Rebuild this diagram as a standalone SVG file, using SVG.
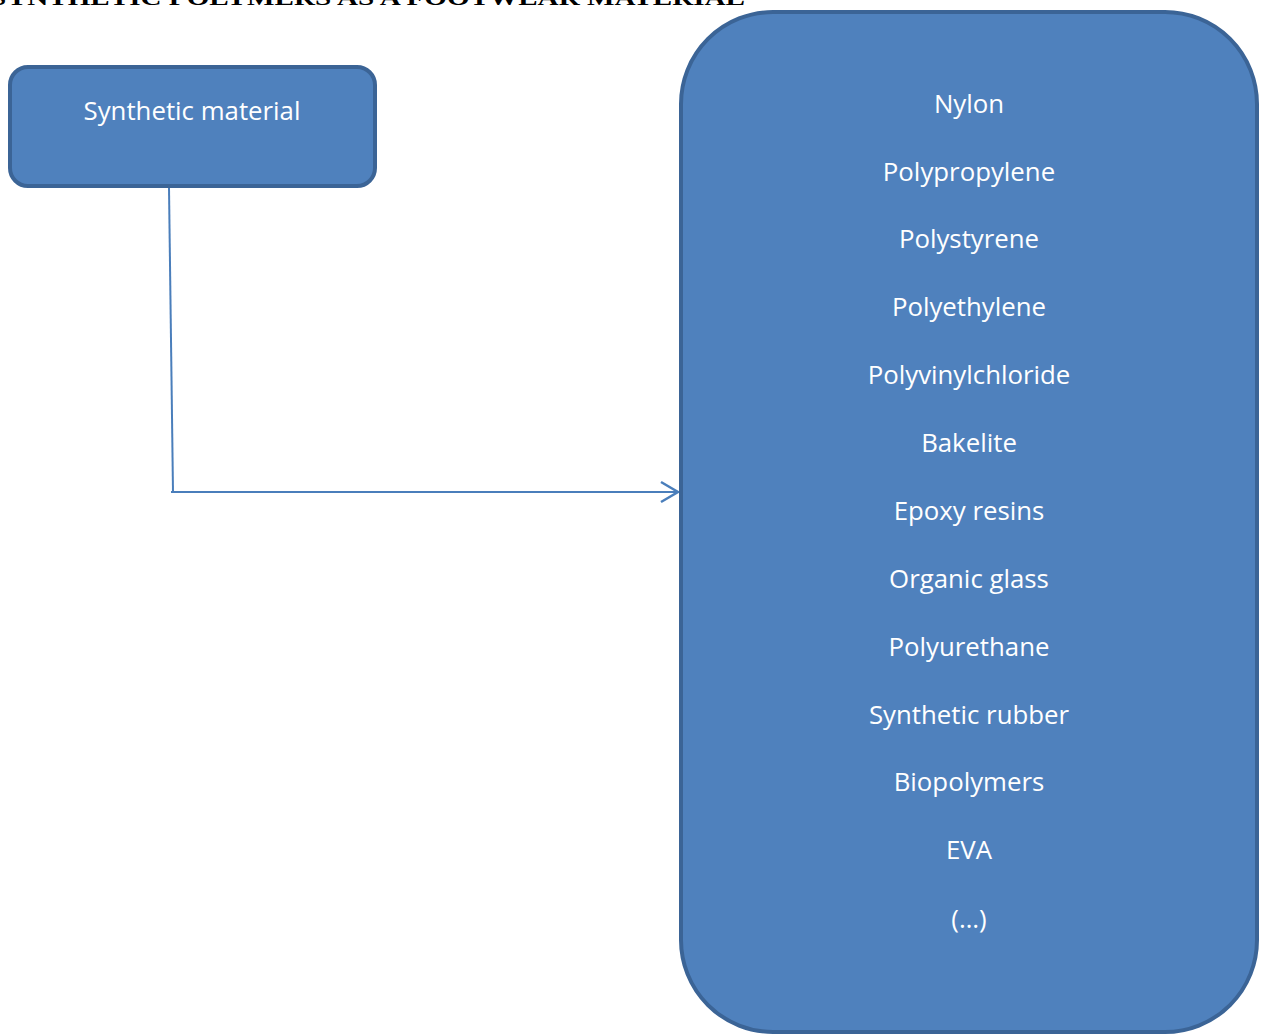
<svg xmlns="http://www.w3.org/2000/svg" width="1265" height="1034" viewBox="0 0 1265 1034">
<style>
.box{fill:#4f81bd;stroke:#3b6496;stroke-width:4}
.lbl{font-family:"Open Sans","Liberation Sans",sans-serif;font-size:25.8px;fill:#ffffff;text-anchor:middle}
.conn{fill:none;stroke:#4a7ebb;stroke-width:2}
.title{font-family:"Liberation Serif",serif;font-weight:bold;font-size:22px;fill:#000}
</style>
<defs>
<marker id="arr" markerWidth="22" markerHeight="24" refX="20" refY="12" orient="auto" markerUnits="userSpaceOnUse">
<path d="M2,2 L19,12 L2,22" fill="none" stroke="#4a7ebb" stroke-width="2.5"/>
</marker>
</defs>
<rect width="1265" height="1034" fill="#ffffff"/>
<text class="title" x="-10" y="5" textLength="755" lengthAdjust="spacingAndGlyphs">SYNTHETIC POLYMERS AS A FOOTWEAR MATERIAL</text>
<g id="connectors">
<path class="conn" d="M169,188 L173,492"/>
<path class="conn" d="M171,492 L679,492" marker-end="url(#arr)"/>
</g>
<g id="node-synthetic">
<rect class="box" x="10" y="67" width="365" height="119" rx="18" ry="18"/>
<text class="lbl" x="192" y="120">Synthetic material</text>
</g>
<g id="node-list">
<rect class="box" x="681" y="12" width="576" height="1020" rx="92" ry="92"/>
<text class="lbl" x="969" y="113">Nylon</text>
<text class="lbl" x="969" y="181">Polypropylene</text>
<text class="lbl" x="969" y="248">Polystyrene</text>
<text class="lbl" x="969" y="316">Polyethylene</text>
<text class="lbl" x="969" y="384">Polyvinylchloride</text>
<text class="lbl" x="969" y="452">Bakelite</text>
<text class="lbl" x="969" y="520">Epoxy resins</text>
<text class="lbl" x="969" y="588">Organic glass</text>
<text class="lbl" x="969" y="656">Polyurethane</text>
<text class="lbl" x="969" y="724">Synthetic rubber</text>
<text class="lbl" x="969" y="791">Biopolymers</text>
<text class="lbl" x="969" y="859">EVA</text>
<text class="lbl" x="969" y="928">(…)</text>
</g>
</svg>
